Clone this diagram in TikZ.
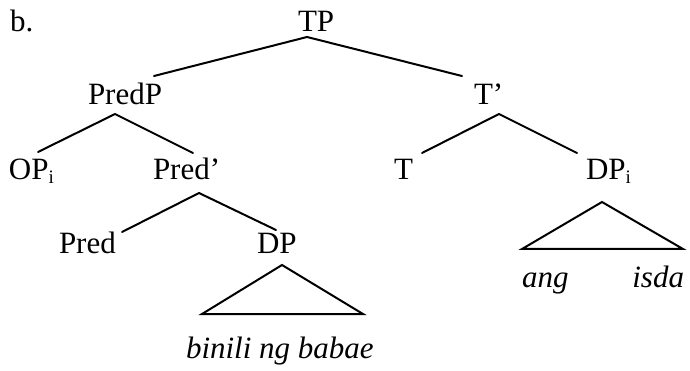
\documentclass[tikz,border=0pt]{standalone}
\usepackage{fontspec}
\setmainfont{Liberation Serif}
\newcommand{\lowidx}[1]{\raisebox{-4pt}{\fontsize{19}{19}\selectfont #1}}
\begin{document}
\begin{tikzpicture}[x=1pt,y=-1pt,
  lbl/.style={inner sep=0pt,outer sep=0pt,anchor=base west,font=\fontsize{31}{37}\selectfont},
  branch/.style={line width=2pt,line cap=round,line join=miter}]
\useasboundingbox (0,0) rectangle (690,371);

% labels
\node[lbl] (ex)    at (10,32)   {b.};
\node[lbl] (tp)    at (298,32)  {TP};
\node[lbl] (predp) at (88,105)  {PredP};
\node[lbl] (tbar)  at (474,105) {T’};
\node[lbl] (op)    at (9,180)   {OP\lowidx{i}};
\node[lbl] (predb) at (153,180) {Pred’};
\node[lbl] (t)     at (394,180) {T};
\node[lbl] (dpi)   at (586,180) {DP\lowidx{i}};
\node[lbl] (pred)  at (59,253)  {Pred};
\node[lbl] (dp)    at (257,253) {DP};
\node[lbl] (ang)   at (522,287) {\itshape ang};
\node[lbl,anchor=base east] (isda) at (684,287) {\itshape isda};
\node[lbl] (binili) at (186,358) {\itshape binili ng babae};

% attachment points of the branches
\coordinate (tp-s)    at (307,37);
\coordinate (predp-n) at (154,76);
\coordinate (tbar-n)  at (462,76);
\coordinate (predp-s) at (115,114);
\coordinate (op-n)    at (38,152);
\coordinate (predb-n) at (193,153);
\coordinate (predb-s) at (199,193);
\coordinate (pred-n)  at (122,232);
\coordinate (dp-n)    at (276,230);
\coordinate (tbar-s)  at (499,114);
\coordinate (t-n)     at (422,153);
\coordinate (dpi-n)   at (577,153);

% roof triangles
\coordinate (dp-top)  at (282,265);
\coordinate (dp-l)    at (202,314);
\coordinate (dp-r)    at (363,314);
\coordinate (dpi-top) at (602,202);
\coordinate (dpi-l)   at (522,249);
\coordinate (dpi-r)   at (683,249);

% branches
\draw[branch] (predp-n) -- (tp-s) -- (tbar-n);
\draw[branch] (op-n) -- (predp-s) -- (predb-n);
\draw[branch] (pred-n) -- (predb-s) -- (dp-n);
\draw[branch] (t-n) -- (tbar-s) -- (dpi-n);
\draw[branch] (dp-top) -- (dp-l) -- (dp-r) -- cycle;
\draw[branch] (dpi-top) -- (dpi-l) -- (dpi-r) -- cycle;
\end{tikzpicture}
\end{document}
